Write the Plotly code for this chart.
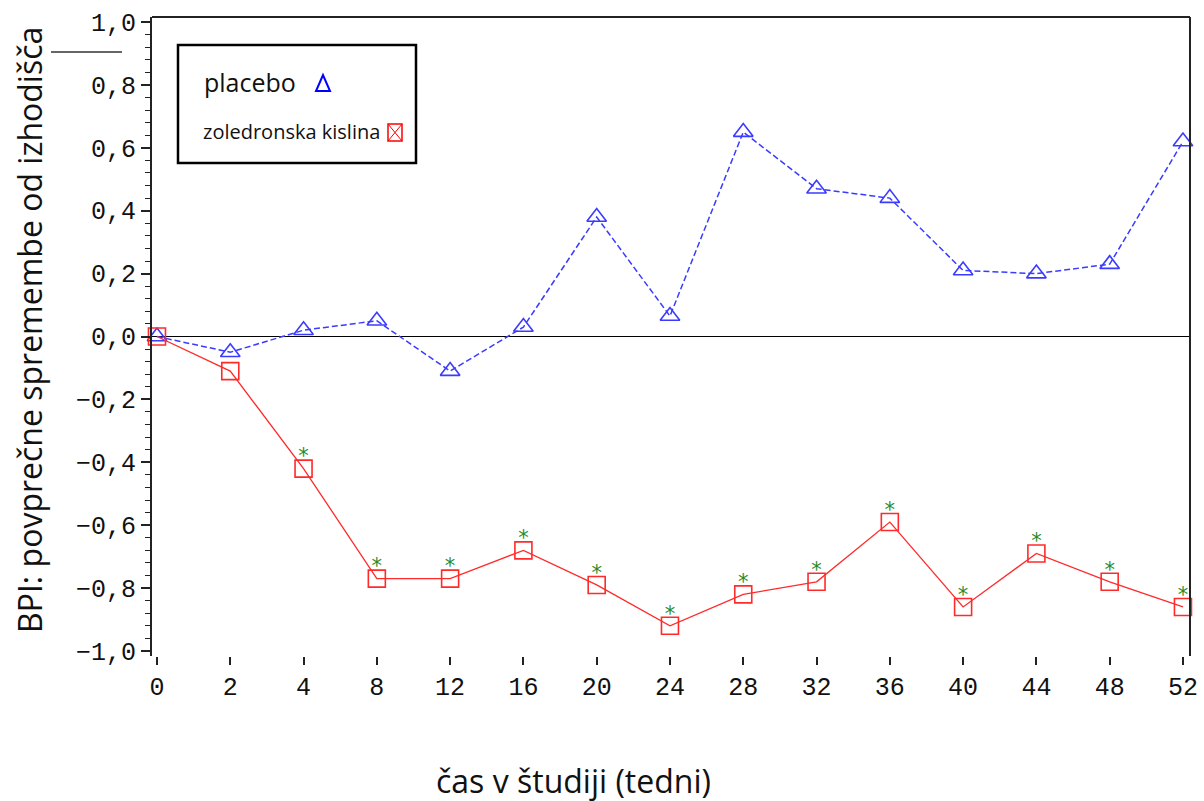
import plotly.graph_objects as go

weeks = ["0", "2", "4", "8", "12", "16", "20", "24", "28", "32", "36", "40", "44", "48", "52"]
placebo = [0.0, -0.05, 0.02, 0.05, -0.11, 0.03, 0.38, 0.065, 0.65, 0.47, 0.44, 0.21, 0.20, 0.23, 0.62]
zoledron = [0.0, -0.11, -0.42, -0.77, -0.77, -0.68, -0.79, -0.92, -0.82, -0.78, -0.59, -0.86, -0.69, -0.78, -0.86]
signif = ["", "", "*", "*", "*", "*", "*", "*", "*", "*", "*", "*", "*", "*", "*"]
ytick_vals = [-1.0, -0.8, -0.6, -0.4, -0.2, 0.0, 0.2, 0.4, 0.6, 0.8, 1.0]
ytick_text = ["\u22121,0", "\u22120,8", "\u22120,6", "\u22120,4", "\u22120,2", "0,0", "0,2", "0,4", "0,6", "0,8", "1,0"]

BLUE = "#3b3bff"
RED = "#ff2a2a"
GREEN = "#2a8a2a"
TICKFONT = dict(family="Liberation Mono", size=25, color="#111111")

fig = go.Figure()
fig.add_trace(go.Scatter(
    x=weeks, y=placebo, mode="lines+markers", name="placebo",
    line=dict(color=BLUE, width=1.5, dash="6px,3px"),
    marker=dict(symbol="triangle-up-open", size=17, color=BLUE, line=dict(width=1.6)),
    showlegend=False, cliponaxis=False))
fig.add_trace(go.Scatter(
    x=weeks, y=zoledron, mode="lines+markers", name="zoledronska kislina",
    line=dict(color=RED, width=1.3),
    marker=dict(symbol="square-open", size=17, color=RED, line=dict(width=1.6)),
    showlegend=False, cliponaxis=False))
fig.add_trace(go.Scatter(
    x=weeks, y=zoledron, mode="text", text=signif, textposition="top center",
    textfont=dict(color=GREEN, size=21, family="DejaVu Sans"),
    showlegend=False, cliponaxis=False, hoverinfo="skip"))

fig.update_layout(
    width=1204, height=801,
    margin=dict(l=152, r=14, t=17, b=145, autoexpand=False),
    plot_bgcolor="white", paper_bgcolor="white",
    showlegend=False,
    xaxis=dict(type="category", range=[-0.068, 14.096], showgrid=False, zeroline=False,
               showline=False, ticks="outside", ticklen=8, tickwidth=1.5, tickcolor="#222",
               tickfont=TICKFONT, automargin=False),
    yaxis=dict(range=[-1.016, 1.016], showgrid=False, zeroline=True, zerolinecolor="black",
               zerolinewidth=1.3, showline=True, linecolor="#222", linewidth=2,
               tickvals=ytick_vals, ticktext=ytick_text, ticks="outside", ticklen=9,
               tickwidth=1.5, tickcolor="#222", tickfont=TICKFONT, automargin=False,
               minor=dict(dtick=0.04, ticks="outside", ticklen=5, tickcolor="#222", tickwidth=1.2,
                          showgrid=False)),
    font=dict(family="Open Sans"),
)


def px(xp):
    return (xp - 152) / 1038


def py(yp):
    return 1 - (yp - 17) / 639


# top and right frame lines
fig.add_shape(type="line", xref="paper", yref="paper", x0=0, x1=1, y0=1, y1=1,
              line=dict(color="#222", width=2))
fig.add_shape(type="line", xref="paper", yref="paper", x0=1, x1=1, y0=0, y1=1,
              line=dict(color="#222", width=2))
# stray line at top-left
fig.add_shape(type="line", xref="paper", yref="paper",
              x0=px(51), x1=px(122), y0=py(52), y1=py(52),
              line=dict(color="#333", width=1.5))
# legend box
fig.add_shape(type="rect", xref="paper", yref="paper",
              x0=px(178), x1=px(416), y0=py(163), y1=py(45),
              line=dict(color="black", width=2.5), fillcolor="white")
# legend symbols
fig.add_shape(type="path", xref="paper", yref="paper",
              path="M {} {} L {} {} L {} {} Z".format(px(316), py(91), px(330), py(91), px(323), py(75)),
              line=dict(color="blue", width=2))
fig.add_shape(type="rect", xref="paper", yref="paper",
              x0=px(388), x1=px(402), y0=py(141), y1=py(124),
              line=dict(color="red", width=1.5))
fig.add_shape(type="line", xref="paper", yref="paper",
              x0=px(388), x1=px(402), y0=py(141), y1=py(124),
              line=dict(color="red", width=1))
fig.add_shape(type="line", xref="paper", yref="paper",
              x0=px(388), x1=px(402), y0=py(124), y1=py(141),
              line=dict(color="red", width=1))

fig.add_annotation(text="placebo", x=px(202), y=py(82), xref="paper", yref="paper",
                   xanchor="left", yanchor="middle", showarrow=False,
                   font=dict(family="Open Sans", size=25, color="#111"))
fig.add_annotation(text="zoledronska kislina", x=px(201), y=py(132), xref="paper", yref="paper",
                   xanchor="left", yanchor="middle", showarrow=False,
                   font=dict(family="Open Sans", size=20, color="#111"))

# axis titles
fig.add_annotation(text="BPI: povpre\u010dne spremembe od izhodi\u0161\u010da",
                   x=px(29), y=py(330), xref="paper", yref="paper",
                   xanchor="center", yanchor="middle", showarrow=False, textangle=-90,
                   font=dict(family="Open Sans", size=32, color="#111"))
fig.add_annotation(text="\u010das v \u0161tudiji (tedni)",
                   x=px(573), y=py(780), xref="paper", yref="paper",
                   xanchor="center", yanchor="middle", showarrow=False,
                   font=dict(family="Open Sans", size=32, color="#111"))

fig.write_html("out.html", config={"displayModeBar": False},
               post_script="document.body.style.margin='0';")
